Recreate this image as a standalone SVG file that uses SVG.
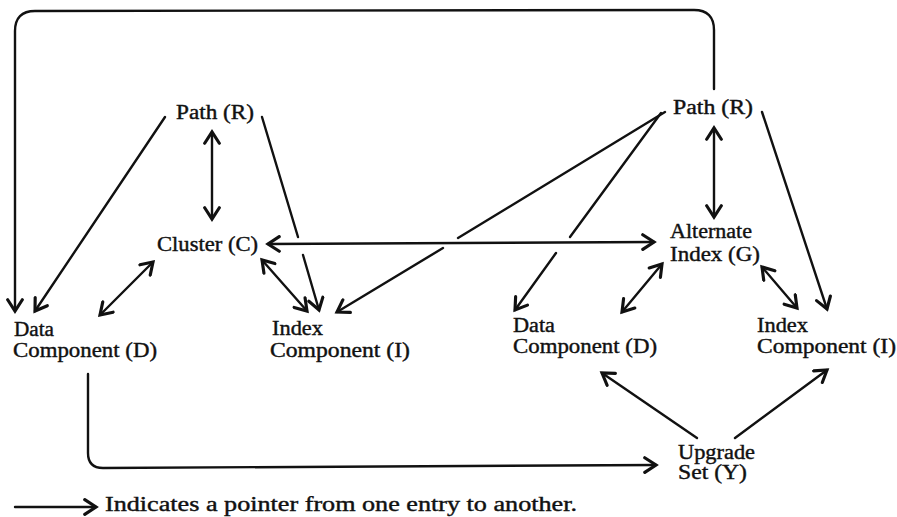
<svg xmlns="http://www.w3.org/2000/svg" width="897" height="517" viewBox="0 0 897 517">
  <defs>
    <marker id="head" markerUnits="userSpaceOnUse" markerWidth="18" markerHeight="18" refX="12" refY="8" orient="auto-start-reverse" viewBox="0 0 16 16">
      <path d="M2,1.5 L12,8 L2,14.5" fill="none" stroke="#111" stroke-width="2.8" stroke-linecap="round" stroke-linejoin="miter"/>
    </marker>
    <style>
      .ln { fill: none; stroke: #111; stroke-width: 2.4; stroke-linecap: round; }
      .one { marker-end: url(#head); }
      .two { marker-start: url(#head); marker-end: url(#head); }
      text { font-family: "Liberation Serif", "Times New Roman", serif; font-size: 20px; fill: #111; stroke: #111; stroke-width: 0.4; }
    </style>
  </defs>
  <rect width="897" height="517" fill="#fff"/>

  <g id="connectors">
    <!-- loop from right path over the top to left data component -->
    <path class="ln one" d="M714,89 L714,30 Q714,10 694,10 L35,11 Q15,11 15,31 L15,311"/>
    <!-- left path -->
    <path class="ln one" d="M165,117 L35,311"/>
    <path class="ln" d="M262,117 L298,237"/>
    <path class="ln one" d="M303,255 L319,310"/>
    <path class="ln two" d="M212,132 L212,219"/>
    <!-- cluster links -->
    <path class="ln two" d="M268,244 L654,242"/>
    <path class="ln two" d="M100,315 L153,262"/>
    <path class="ln two" d="M262,260 L307,311"/>
    <!-- right path -->
    <path class="ln" d="M665,112 L458,238"/>
    <path class="ln one" d="M443,248 L337,312"/>
    <path class="ln" d="M661,113 L570,237"/>
    <path class="ln one" d="M556,253 L515,310"/>
    <path class="ln one" d="M762,112 L827,309"/>
    <path class="ln two" d="M714,128 L714,217"/>
    <!-- alternate index links -->
    <path class="ln two" d="M622,312 L662,264"/>
    <path class="ln two" d="M762,267 L797,308"/>
    <!-- upgrade set -->
    <path class="ln one" d="M697,438 L602,373"/>
    <path class="ln one" d="M735,438 L827,370"/>
    <path class="ln one" d="M88,374 L88,453 Q88,468 103,468 L656,465"/>
    <!-- legend -->
    <path class="ln one" d="M15,507 L96,507"/>
  </g>

  <g id="path-left"><text x="176" y="119" textLength="78" lengthAdjust="spacingAndGlyphs">Path (R)</text></g>
  <g id="cluster"><text x="157" y="251" textLength="101" lengthAdjust="spacingAndGlyphs">Cluster (C)</text></g>
  <g id="data-left">
    <text x="14" y="336" textLength="40" lengthAdjust="spacingAndGlyphs">Data</text>
    <text x="13" y="357" textLength="144" lengthAdjust="spacingAndGlyphs">Component (D)</text>
  </g>
  <g id="index-left">
    <text x="272" y="335" textLength="51" lengthAdjust="spacingAndGlyphs">Index</text>
    <text x="270" y="357" textLength="140" lengthAdjust="spacingAndGlyphs">Component (I)</text>
  </g>
  <g id="path-right"><text x="673" y="114" textLength="80" lengthAdjust="spacingAndGlyphs">Path (R)</text></g>
  <g id="alternate-index">
    <text x="670" y="238" textLength="82" lengthAdjust="spacingAndGlyphs">Alternate</text>
    <text x="670" y="261" textLength="90" lengthAdjust="spacingAndGlyphs">Index (G)</text>
  </g>
  <g id="data-right">
    <text x="513" y="332" textLength="42" lengthAdjust="spacingAndGlyphs">Data</text>
    <text x="513" y="353" textLength="144" lengthAdjust="spacingAndGlyphs">Component (D)</text>
  </g>
  <g id="index-right">
    <text x="757" y="332" textLength="51" lengthAdjust="spacingAndGlyphs">Index</text>
    <text x="757" y="353" textLength="139" lengthAdjust="spacingAndGlyphs">Component (I)</text>
  </g>
  <g id="upgrade-set">
    <text x="678" y="459" textLength="77" lengthAdjust="spacingAndGlyphs">Upgrade</text>
    <text x="678" y="479" textLength="69" lengthAdjust="spacingAndGlyphs">Set (Y)</text>
  </g>
  <g id="legend"><text x="105" y="511" textLength="472" lengthAdjust="spacingAndGlyphs">Indicates a pointer from one entry to another.</text></g>
</svg>
